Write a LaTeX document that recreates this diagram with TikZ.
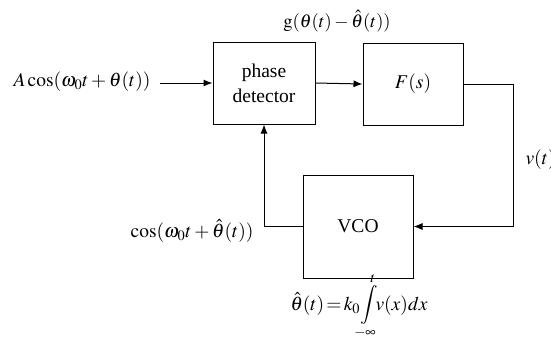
\documentclass[tikz,border=0pt]{standalone}
\usepackage{mathptmx}
\usepackage{fontspec}
\setmainfont{Liberation Serif}
\usetikzlibrary{arrows.meta, positioning}
\tikzset{
    block/.style={draw, line width=1pt, align=center, inner sep=0pt},
    sig/.style={line width=1pt, -{Latex[length=9pt,width=7pt]}},
    wire/.style={line width=1pt}
}
\newcommand{\lowlim}{\makebox[0pt]{$\scriptstyle-\infty$}}

\begin{document}
\begin{tikzpicture}[x=1pt, y=-1pt, font=\fontsize{19.5}{25}\selectfont]
    \useasboundingbox (0,0) rectangle (551,338);

    \node[block, minimum width=102pt, minimum height=82pt] (pd) at (264,83) {phase\\detector};
    \node[block, minimum width=100pt, minimum height=82pt] (filt) at (413,84) {$F(s)$};
    \node[block, minimum width=110pt, minimum height=103pt] (vco) at (358,226.5) {VCO};

    \coordinate (in) at (160,83);
    \node[anchor=east] (inlabel) at (154,82) {$A\cos(\omega_0 t+\theta(t))$};
    \node[font=\fontsize{18.5}{22}\selectfont] (glabel) at (337,21) {$\mathrm{g}(\theta(t)-\hat{\theta}(t))$};
    \node[anchor=west] (vlabel) at (522,160) {$v(t)$};
    \node[anchor=east] (coslabel) at (257,231) {$\cos(\omega_0 t+\hat{\theta}(t))$};
    \node (intlabel) at (359,306) {$\hat{\theta}(t)\mkern-2mu=\mkern-2mu k_0\!\displaystyle\int\limits_{\lowlim}^{t}\!\! v(x)dx$};

    \draw[sig] (in) -- (pd.west);
    \draw[sig] (pd.east) -- (filt.west);
    \draw[sig] (filt.east) -- ++(50,0) |- (vco.east);
    \draw[sig] (vco.west) -| (pd.south);
\end{tikzpicture}
\end{document}
